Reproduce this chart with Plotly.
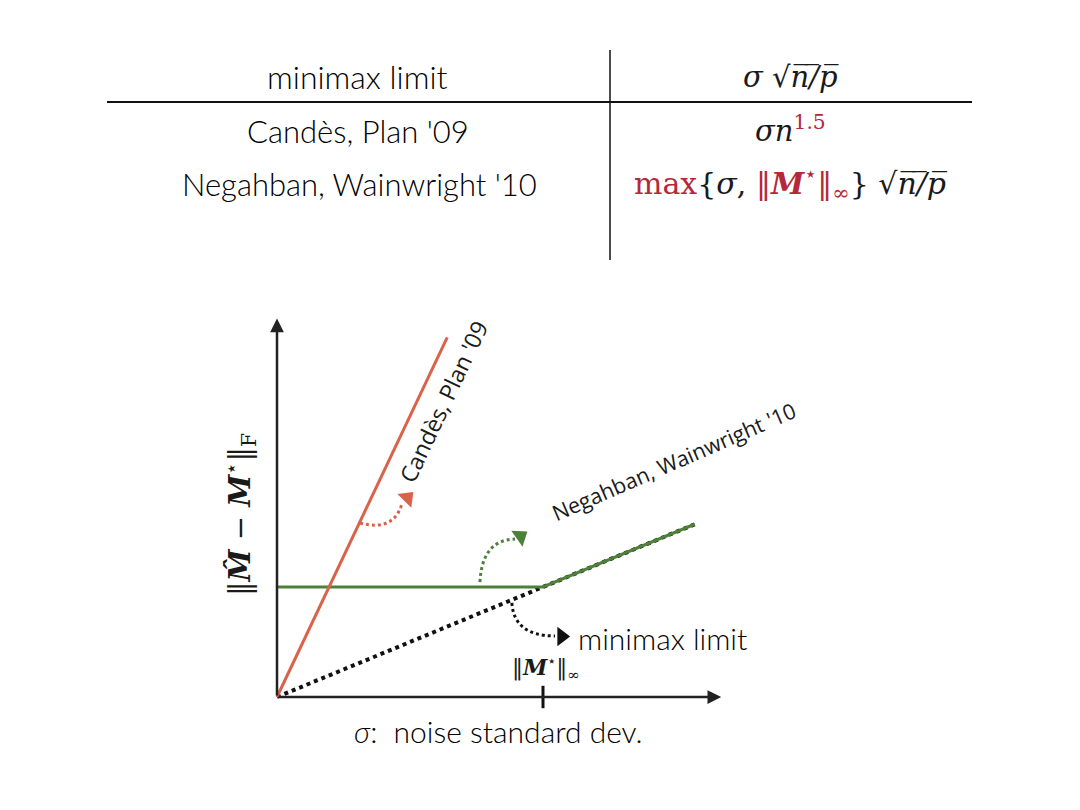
import plotly.graph_objects as go

W, H = 1080, 810
OFF = 8  # page body margin around the plot

# schematic values (sigma on x, error on y); ||M*||_inf = 1
m_inf = 1.0
candes_x = [0.0, 0.64]
candes_y = [0.0, 3.27]
negahban_x = [0.0, 1.0, 1.57]
negahban_y = [1.0, 1.0, 1.57]
minimax_x = [0.0, 1.0, 1.57]
minimax_y = [0.0, 1.0, 1.57]
x_axis_end = 1.67
y_axis_end = 3.44

# curved pointer arrows: start, control, end, head position, head angle
pointers = {
    "red": dict(p=[(0.312, 1.582), (0.44, 1.50), (0.47, 1.76)], head=(0.49, 1.81), ang=-45),
    "green": dict(p=[(0.763, 1.045), (0.771, 1.43), (0.895, 1.436)], head=(0.915, 1.46), ang=-35),
    "black": dict(p=[(0.883, 0.855), (0.891, 0.555), (1.045, 0.555)], head=(1.07, 0.55), ang=0),
}

RED = "#d9634a"
GREEN = "#4f8039"
TRED = "#b5283a"
TXT = "Lato"
SERIF = "DejaVu Serif"

# axis ranges: origin of the sketch sits at (277, 697) on the page
x_range = [-(277 - OFF) / 266, (W - 277 + OFF) / 266]
y_range = [(697 - OFF - H) / 110, (697 - OFF) / 110]


def px(x):
    return (x - OFF) / W


def py(y):
    return 1 - (y - OFF) / H


fig = go.Figure()

fig.add_trace(go.Scatter(x=minimax_x, y=minimax_y, mode="lines",
                         line=dict(color="#111", width=4, dash="dot")))
fig.add_trace(go.Scatter(x=negahban_x, y=negahban_y, mode="lines",
                         line=dict(color=GREEN, width=3.2)))
fig.add_trace(go.Scatter(x=candes_x, y=candes_y, mode="lines",
                         line=dict(color=RED, width=3)))
fig.add_trace(go.Scatter(x=[m_inf], y=[0], mode="markers",
                         marker=dict(symbol="line-ns", size=16,
                                     line=dict(color="#111", width=3))))

cols = {"red": RED, "green": GREEN, "black": "#111"}
shapes = []
for k, d in pointers.items():
    (x0, y0), (cx, cy), (x1, y1) = d["p"]
    shapes.append(dict(type="path", xref="x", yref="y",
                       path=f"M {x0},{y0} Q {cx},{cy} {x1},{y1}",
                       line=dict(color=cols[k], width=3, dash="dot")))
    fig.add_trace(go.Scatter(x=[d["head"][0]], y=[d["head"][1]], mode="markers",
                             marker=dict(symbol="triangle-right", size=17, angle=d["ang"],
                                         color=cols[k])))

# table rules
shapes.append(dict(type="line", xref="paper", yref="paper", x0=px(107), x1=px(972),
                   y0=py(102), y1=py(102), line=dict(color="#111", width=2)))
shapes.append(dict(type="line", xref="paper", yref="paper", x0=px(610), x1=px(610),
                   y0=py(50), y1=py(260), line=dict(color="#111", width=1.5)))

ann = []
# axes arrows
ann.append(dict(x=x_axis_end, y=0, ax=0, ay=0, xref="x", yref="y", axref="x", ayref="y",
                text="", showarrow=True, arrowhead=2, arrowsize=1.1, arrowwidth=2.5,
                arrowcolor="#222"))
ann.append(dict(x=0, y=y_axis_end, ax=0, ay=0, xref="x", yref="y", axref="x", ayref="y",
                text="", showarrow=True, arrowhead=2, arrowsize=1.1, arrowwidth=2.5,
                arrowcolor="#222"))


def t(x, y, s, size=30, font=TXT, color="#000", angle=0, xa="center", weight=300):
    ann.append(dict(x=px(x), y=py(y), xref="paper", yref="paper", text=s, showarrow=False,
                    xanchor=xa, yanchor="middle", textangle=angle,
                    font=dict(family=font, size=size, color=color, weight=weight)))


SQ = "√<i>n̅/̅p̅</i>"

# table
t(357, 77, "minimax limit", size=32)
t(358, 131, "Candès, Plan '09", size=31)
t(359, 184, "Negahban, Wainwright '10", size=31)
t(790, 77, f"<i>σ</i> {SQ}", size=29, font=SERIF, color="#1a1a1a", weight=400)
t(790, 129, f"<i>σn</i><sup><span style='color:{TRED}'>1.5</span></sup>", size=29,
  font=SERIF, color="#1a1a1a", weight=400)
t(790, 184, f"<span style='color:{TRED}'>max</span>{{<i>σ</i>, "
            f"<span style='color:{TRED}'>‖<b><i>M</i></b><sup>⋆</sup>‖<sub>∞</sub></span>}} "
            f"{SQ}", size=30, font=SERIF, color="#1a1a1a", weight=400)

# plot labels
t(240, 515, "‖<b><i>M̂</i></b> − <b><i>M</i></b><sup>⋆</sup>‖<sub>F</sub>", size=29,
  font=SERIF, color="#1a1a1a", angle=-90, weight=400)
t(498, 731, "<i>σ</i>:  noise standard dev.", size=30)
t(546, 668, "‖<b><i>M</i></b><sup>⋆</sup>‖<sub>∞</sub>", size=22, font=SERIF,
  color="#1a1a1a", weight=400)
t(443, 402, "Candès, Plan '09", size=23, font="Open Sans", color="#1a1a1a",
  angle=-64.7, weight=400)
t(673, 461, "Negahban, Wainwright '10", size=21.5, font="Open Sans", color="#1a1a1a",
  angle=-23.5, weight=400)
t(576, 638, "minimax limit", size=30, xa="left")

fig.update_layout(
    width=W, height=H, margin=dict(l=0, r=0, t=0, b=0),
    paper_bgcolor="white", plot_bgcolor="white", showlegend=False,
    xaxis=dict(range=x_range, visible=False, fixedrange=True),
    yaxis=dict(range=y_range, visible=False, fixedrange=True),
    shapes=shapes, annotations=ann,
)

fig.write_html("out.html")
